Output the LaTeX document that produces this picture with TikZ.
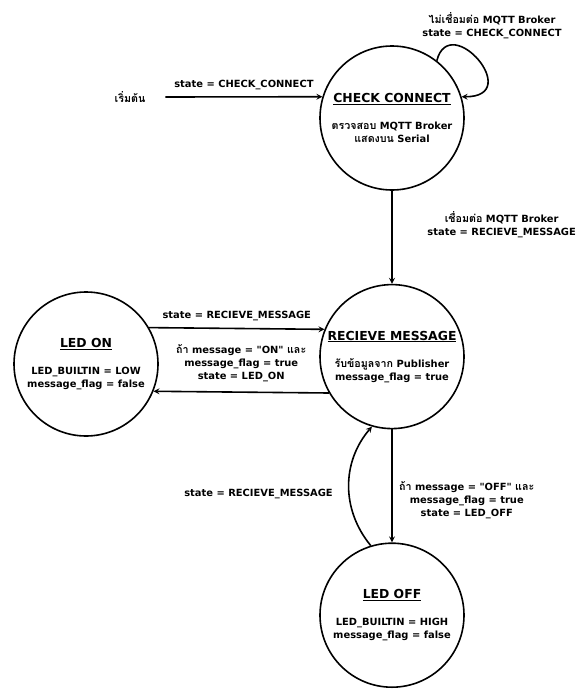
\documentclass[tikz,border=0pt]{standalone}
\usepackage{fontspec}
\usepackage{tikz}
\usetikzlibrary{arrows, positioning}
\setmainfont{DejaVu Sans}
\newfontfamily\thaifont[Script=Thai, Scale=1.08]{Loma}
\newcommand{\thtxt}[1]{{\thaifont #1}}
\newcommand{\bodysize}{\fontsize{9.9}{13}\selectfont}
\newcommand{\titlesize}{\fontsize{12.4}{15}\selectfont}
\tikzset{>=stealth}

\begin{document}
\begin{tikzpicture}[x=1pt, y=1pt, line width=1.6pt,
    every node/.style={font=\bfseries\bodysize, align=center},
    stcircle/.style={draw, circle, minimum size=144pt, inner sep=0pt}]
        \useasboundingbox (0,0) rectangle (580,-691);
        \node[stcircle] (check) at (392,-118) {{\titlesize\underline{CHECK CONNECT}}\\[14pt] \thtxt{ตรวจสอบ} MQTT Broker\\ \thtxt{แสดงบน} Serial};
        \node[stcircle, below=93pt of check] (recv) {{\titlesize\underline{RECIEVE MESSAGE}}\\[14pt] \thtxt{รับข้อมูลจาก} Publisher\\ message\_flag = true};
        \node[stcircle] (ledon) at (86,-364) {{\titlesize\underline{LED ON}}\\[14pt] LED\_BUILTIN = LOW\\ message\_flag = false};
        \node[stcircle, below=113pt of recv] (ledoff) {{\titlesize\underline{LED OFF}}\\[14pt] LED\_BUILTIN = HIGH\\ message\_flag = false};

        \node (start) at (130,-97) {\thtxt{เริ่มต้น}};
        \node (looplbl) at (492,-26) {\thtxt{ไม่เชื่อมต่อ} MQTT Broker\\ state = CHECK\_CONNECT};
        \node[anchor=east] (linklbl) at (580,-225) {\thtxt{เชื่อมต่อ} MQTT Broker\\ state = RECIEVE\_MESSAGE};

        \draw[->] ([xshift=16pt]start.east) -- node[above=3pt] {state = CHECK\_CONNECT} (check.163);
        \draw[->] (check.52) .. controls (450,-10) and (525,-97) .. (check.17);
        \draw[->] (check) -- (recv);
        \draw[->] (ledon.30) -- node[above=4pt] {state = RECIEVE\_MESSAGE} (recv.158);
        \draw[->] (recv.210) -- node[above=6pt] {\thtxt{ถ้า} message = \textquotedbl ON\textquotedbl\ \thtxt{และ}\\ message\_flag = true\\ state = LED\_ON} (ledon.-22);
        \draw[->] (recv) -- node[right=3pt, yshift=-14pt] {\thtxt{ถ้า} message = \textquotedbl OFF\textquotedbl\ \thtxt{และ}\\ message\_flag = true\\ state = LED\_OFF} (ledoff);
        \draw[->] (ledoff.107) to[bend left=40] node[left=12pt, yshift=-8pt] {state = RECIEVE\_MESSAGE} (recv.254);
      \end{tikzpicture}
\end{document}
